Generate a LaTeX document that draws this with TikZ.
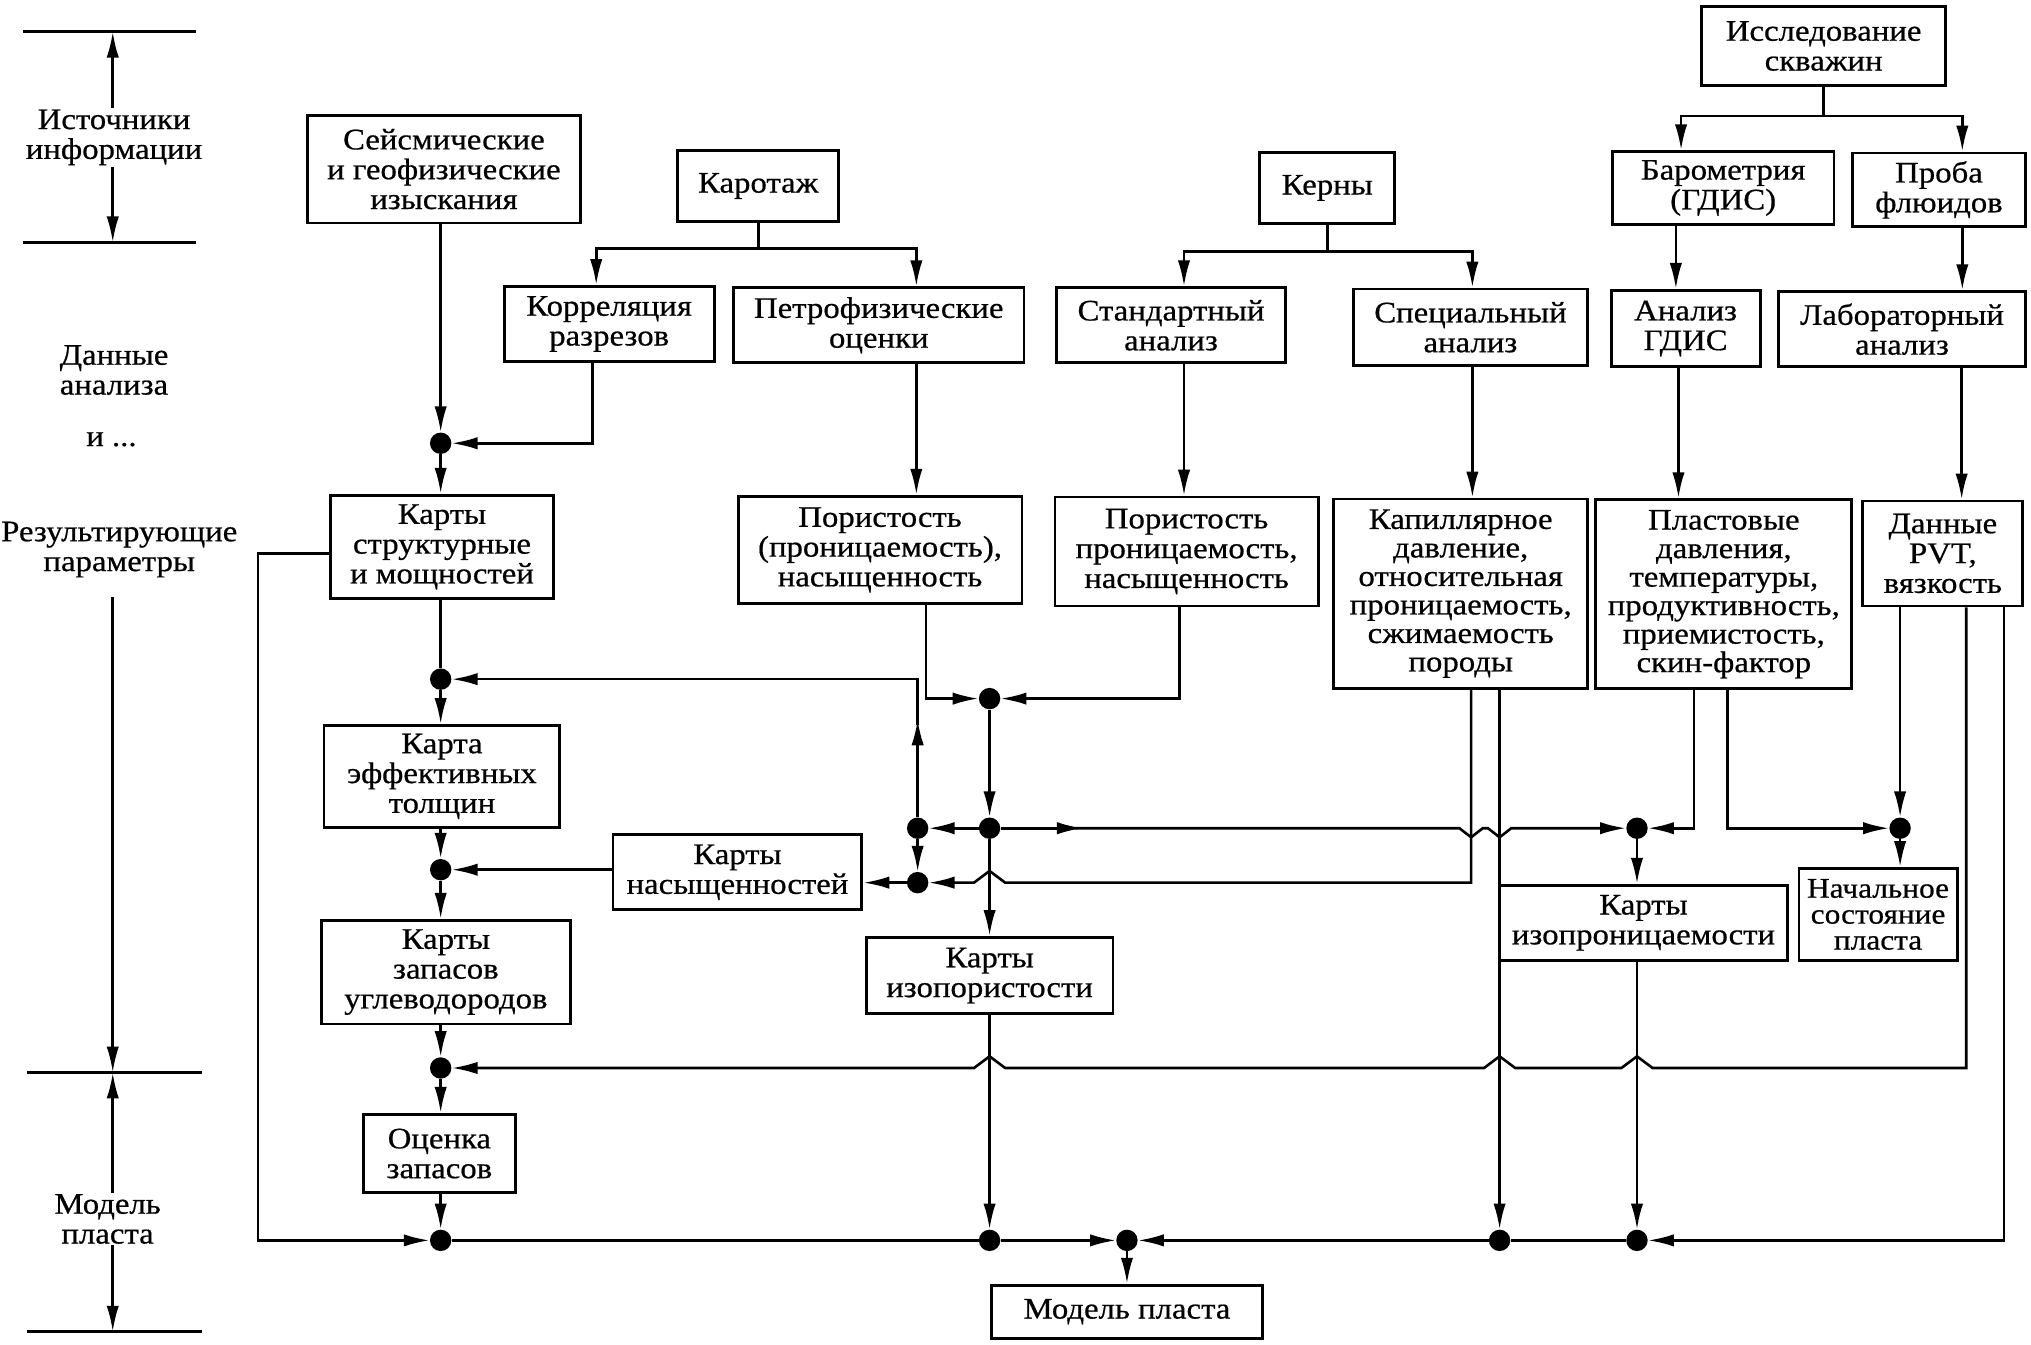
\documentclass[tikz,border=0pt]{standalone}
\usepackage{fontspec}
\setmainfont{Liberation Serif}[FakeStretch=1.1,FakeBold=0.6]
\usetikzlibrary{arrows.meta,calc}
\begin{document}
\begin{tikzpicture}[x=1pt,y=-1pt,
  every node/.style={font=\fontsize{23}{23}\selectfont},
  box/.style={draw,line width=2.2pt,inner sep=0pt,align=center},
  lbl/.style={align=center,inner sep=1pt},
  dot/.style={circle,fill,inner sep=0pt,minimum size=16.5pt},
  conn/.style={line width=2pt},
  arr/.style={conn,-{Latex[length=20pt,width=9.5pt]}},
  axl/.style={line width=2.2pt}]
\useasboundingbox (0,0) rectangle (1567,1037.7);

% ---------- left scale ----------
\coordinate (h1) at (87,24.4);
\coordinate (h2) at (87,187);
\coordinate (h3) at (87,827.5);
\coordinate (h4) at (87,1027.5);
\draw[axl] (18,24.4) -- (151,24.4);
\draw[axl] (18,187) -- (151,187);
\draw[axl] (21,827.5) -- (156,827.5);
\draw[axl] (21,1027.5) -- (156,1027.5);
\node[lbl] (src) at (88,106) {Источники\\информации};
\node[lbl] (dan) at (88,285.5) {Данные\\анализа};
\node[lbl] (idots) at (86,339) {и ...};
\node[lbl] (res) at (92,424) {Результирующие\\параметры};
\node[lbl] (mod) at (83,940.5) {Модель\\пласта};
\draw[arr] (src.north -| h1) -- (h1);
\draw[arr] (src.south -| h2) -- (h2);
\draw[arr] ($(res.south -| h3)+(0,14)$) -- (h3);
\draw[arr] (mod.north -| h3) -- (h3);
\draw[arr] (mod.south -| h4) -- (h4);

% ---------- boxes ----------
\node[box,minimum width=211pt,minimum height=83pt] (seis) at (342.5,130.5) {Сейсмические\\и геофизические\\изыскания};
\node[box,minimum width=124pt,minimum height=55pt] (karot) at (585,143.5) {Каротаж};
\node[box,minimum width=104pt,minimum height=55pt] (kerny) at (1024,145) {Керны};
\node[box,minimum width=188pt,minimum height=61pt] (issl) at (1407,35.5) {Исследование\\скважин};
\node[box,minimum width=171pt,minimum height=56pt] (barom) at (1329.5,145) {Барометрия\\(ГДИС)};
\node[box,minimum width=134pt,minimum height=57pt] (proba) at (1496,146.5) {Проба\\флюидов};
\node[box,minimum width=162pt,minimum height=58pt] (korr) at (470,250) {Корреляция\\разрезов};
\node[box,minimum width=224pt,minimum height=58pt] (petro) at (678,251) {Петрофизические\\оценки};
\node[box,minimum width=177pt,minimum height=58pt] (stand) at (903.5,251) {Стандартный\\анализ};
\node[box,minimum width=181pt,minimum height=59pt] (spec) at (1134.5,252.5) {Специальный\\анализ};
\node[box,minimum width=115pt,minimum height=59pt] (agdis) at (1300.5,253.5) {Анализ\\ГДИС};
\node[box,minimum width=191pt,minimum height=58pt] (lab) at (1467.5,254) {Лабораторный\\анализ};
\node[box,minimum width=172pt,minimum height=80pt] (kstr) at (341,422) {Карты\\структурные\\и мощностей};
\node[box,minimum width=219pt,minimum height=83pt] (por1) at (679,424.3) {Пористость\\(проницаемость),\\насыщенность};
\node[box,minimum width=203pt,minimum height=84pt] (por2) at (915.5,425.5) {Пористость\\проницаемость,\\насыщенность};
\node[box,minimum width=196pt,minimum height=146pt,font=\fontsize{23}{22}\selectfont] (kap) at (1127,458) {Капиллярное\\давление,\\относительная\\проницаемость,\\сжимаемость\\породы};
\node[box,minimum width=197.5pt,minimum height=146pt,font=\fontsize{23}{22}\selectfont] (plast) at (1330,458.5) {Пластовые\\давления,\\температуры,\\продуктивность,\\приемистость,\\скин-фактор};
\node[box,minimum width=123.5pt,minimum height=81pt] (pvt) at (1499,427) {Данные\\PVT,\\вязкость};
\node[box,minimum width=182pt,minimum height=78.5pt] (keff) at (341,599) {Карта\\эффективных\\толщин};
\node[box,minimum width=192pt,minimum height=58pt] (knas) at (569,673) {Карты\\насыщенностей};
\node[box,minimum width=192pt,minimum height=80pt] (kzap) at (344,750) {Карты\\запасов\\углеводородов};
\node[box,minimum width=190.5pt,minimum height=59pt] (kiso) at (763.5,752.7) {Карты\\изопористости};
\node[box,minimum width=222pt,minimum height=58pt] (kizpr) at (1268,712) {Карты\\изопроницаемости};
\node[box,minimum width=122pt,minimum height=71pt,font=\fontsize{22}{20}\selectfont] (nach) at (1449,705.5) {Начальное\\состояние\\пласта};
\node[box,minimum width=117.6pt,minimum height=60.6pt] (ocen) at (339,890) {Оценка\\запасов};
\node[box,minimum width=209pt,minimum height=41pt] (model) at (869.5,1012) {Модель пласта};

% ---------- junction dots ----------
\node[dot] (d1) at (340,342) {};
\node[dot] (d2) at (340,524) {};
\node[dot] (d3) at (340,671) {};
\node[dot] (d4) at (340,824) {};
\node[dot] (d5) at (340,957) {};
\node[dot] (dm1) at (763.5,539) {};
\node[dot] (d6) at (708,639) {};
\node[dot] (d6b) at (763.5,639) {};
\node[dot] (d8) at (708,681) {};
\node[dot] (d9) at (1263,639) {};
\node[dot] (d10) at (1466,639) {};
\node[dot] (d7) at (763.5,957) {};
\node[dot] (dm) at (869.5,957) {};
\node[dot] (d11) at (1157,957) {};
\node[dot] (d12) at (1263,957) {};

% ---------- branch coordinates ----------
\coordinate (br1) at (1407,89.5);
\coordinate (br2) at (1024,194);
\coordinate (br3) at (585,191.6);

% ---------- top connectors ----------
\draw[conn] (issl) -- (br1);
\draw[arr] (br1) -| ([xshift=-32.5pt]barom.north);
\draw[arr] (br1) -| ([xshift=18pt]proba.north);
\draw[arr] ([xshift=-36.5pt]barom.south) -- ([xshift=-36.5pt]barom.south |- agdis.north);
\draw[arr] ([xshift=18pt]proba.south) -- ([xshift=18pt]proba.south |- lab.north);
\draw[arr] ([xshift=-5.5pt]agdis.south) -- ([xshift=-5.5pt]agdis.south |- plast.north);
\draw[arr] ([xshift=46pt]lab.south) -- ([xshift=46pt]lab.south |- pvt.north);
\draw[conn] (kerny) -- (br2);
\draw[arr] (br2) -| ([xshift=10pt]stand.north);
\draw[arr] (br2) -| ([xshift=1.5pt]spec.north);
\draw[arr] ([xshift=10pt]stand.south) -- ([xshift=10pt]stand.south |- por2.north);
\draw[arr] ([xshift=1.5pt]spec.south) -- ([xshift=1.5pt]spec.south |- kap.north);
\draw[conn] (karot) -- (br3);
\draw[arr] (br3) -| ([xshift=-10pt]korr.north);
\draw[arr] (br3) -| ([xshift=29pt]petro.north);
\draw[arr] ([xshift=29pt]petro.south) -- ([xshift=29pt]petro.south |- por1.north);

% ---------- left column ----------
\draw[arr] (seis.south -| d1) -- (d1);
\draw[arr] ([xshift=-13pt]korr.south) |- (d1);
\draw[arr] (d1) -- (d1 |- kstr.north);
\draw[conn] (kstr.south -| d2) -- (d2);
\draw[arr] (d2) -- (d2 |- keff.north);
\draw[arr] (keff.south -| d3) -- (d3);
\draw[arr] (d3) -- (d3 |- kzap.north);
\draw[arr] (kzap.south -| d4) -- (d4);
\draw[arr] (d4) -- (d4 |- ocen.north);
\draw[arr] (ocen.south -| d5) -- (d5);
\draw[arr] ([yshift=-5pt]kstr.west) -- (199,427) -- (199,957) -- (d5);

% ---------- middle ----------
\draw[arr] ([xshift=35.5pt]por1.south) |- (dm1);
\draw[arr] ([xshift=-5.5pt]por2.south) |- (dm1);
\draw[arr] (dm1) -- (d6b);
\draw[arr] (d6b) -- (d6b |- kiso.north);
\draw[arr] (d6b) -- (d6);
\draw[arr] (d6) -- (d8);
\draw[arr] (d8) -- (knas.east |- d8);
\draw[arr] (knas.west |- d3) -- (d3);
\draw[arr] (d6) -- ++(0,-84);
\draw[arr] ($(d6)+(0,-80)$) -- (d6 |- d2) -- (d2);
\draw[arr] (d6b) -- ++(72,0);
\draw[arr] ($(d6b)+(66,0)$) -- (1126,639) -- (1135,646) -- (1144,639) -- (1148,639) -- (1157,646) -- (1166,639) -- (d9);
\draw[arr] ([xshift=-23pt]plast.south) |- (d9);
\draw[arr] ([xshift=3pt]plast.south) |- (d10);
\draw[arr] (pvt.south -| d10) -- (d10);
\draw[arr] (d9) -- (d9 |- kizpr.north);
\draw[arr] (d10) -- (d10 |- nach.north);
\draw[arr] ([xshift=8pt]kap.south) -- (1135,681) -- (775.5,681) -- (763.5,672) -- (751.5,681) -- (d8);
\draw[arr] ([xshift=30pt]kap.south) -- (d11);
\draw[arr] (kizpr.south -| d12) -- (d12);
\draw[arr] (kiso.south -| d7) -- (d7);
\draw[arr] ([xshift=18pt]pvt.south) -- (1517,824) -- (1275,824) -- (1263,815) -- (1251,824)
   -- (1169,824) -- (1157,815) -- (1145,824) -- (775.5,824) -- (763.5,815) -- (751.5,824) -- (d4);
\draw[arr] ([xshift=47pt]pvt.south) |- (d12);

% ---------- bottom line ----------
\draw[conn] (d12) -- (d11);
\draw[arr] (d11) -- (dm);
\draw[conn] (d5) -- (d7);
\draw[arr] (d7) -- (dm);
\draw[arr] (dm) -- (dm |- model.north);
\end{tikzpicture}
\end{document}
